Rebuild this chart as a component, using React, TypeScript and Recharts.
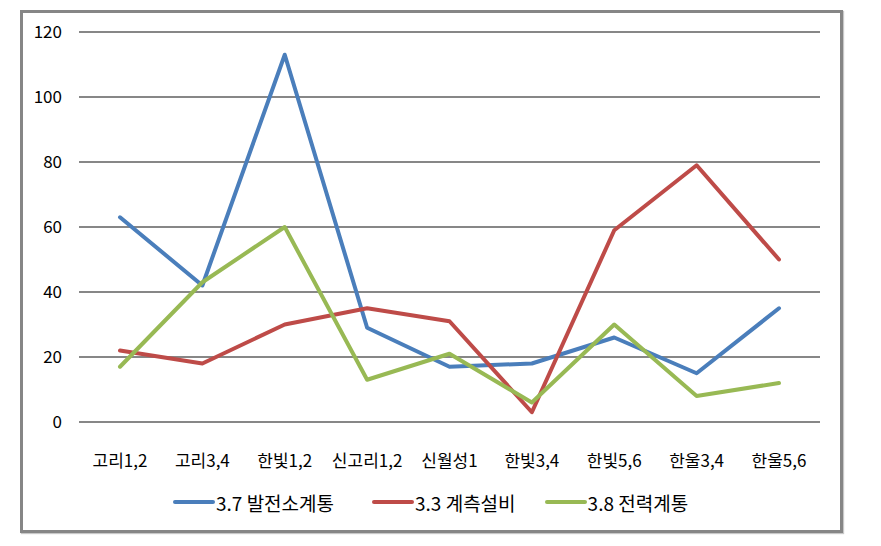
import React from 'react';
import { LineChart, Line, XAxis, YAxis, CartesianGrid, Legend } from 'recharts';

const categories = ['고리1,2', '고리3,4', '한빛1,2', '신고리1,2', '신월성1', '한빛3,4', '한빛5,6', '한울3,4', '한울5,6'];
const plantSystem = [63, 42, 113, 29, 17, 18, 26, 15, 35];
const measurement = [22, 18, 30, 35, 31, 3, 59, 79, 50];
const powerSystem = [17, 43, 60, 13, 21, 6, 30, 8, 12];
const yTicks = [0, 20, 40, 60, 80, 100, 120];

const seriesNames = ['3.7 발전소계통', '3.3 계측설비', '3.8 전력계통'];
const seriesColors = ['#4A7EBB', '#BE4B48', '#98B954'];
const legendGaps = [38, 29, 0];

const data = categories.map((c, i) => ({
  name: c,
  s1: plantSystem[i],
  s2: measurement[i],
  s3: powerSystem[i],
}));

const FONT = '"Noto Sans CJK KR", "Noto Sans", sans-serif';

const LegendContent = () => (
  <div style={{ display: 'flex', alignItems: 'center', fontFamily: FONT, fontSize: 19, color: '#000', height: 26, whiteSpace: 'nowrap' }}>
    {seriesNames.map((n, i) => (
      <div key={n} style={{ display: 'flex', alignItems: 'center', marginRight: legendGaps[i] }}>
        <div style={{ width: 42, height: 4, borderRadius: 2, background: seriesColors[i] }} />
        <span style={{ marginLeft: 1 }}>{n}</span>
      </div>
    ))}
  </div>
);

export default function App() {
  return (
    <div style={{ position: 'absolute', left: 0, top: 0, width: 881, height: 546, background: '#fff' }}>
      <div style={{ position: 'absolute', left: 20, top: 10, width: 823, height: 523, boxSizing: 'border-box', border: '3px solid #868686', boxShadow: '1px 1px 1px #c8c8c8' }} />
      <div style={{ position: 'absolute', left: 0, top: 0 }}>
        <LineChart width={881} height={546} data={data} margin={{ top: 32, right: 61, bottom: 84, left: 0 }}>
          <CartesianGrid vertical={false} stroke="#878787" strokeWidth={2} />
          <XAxis
            dataKey="name"
            axisLine={false}
            tickLine={false}
            tickSize={0}
            tickMargin={33}
            height={40}
            interval={0}
            padding={{ left: 41, right: 41 }}
            tick={{ fill: '#000', fontSize: 17, fontFamily: FONT }}
          />
          <YAxis
            domain={[0, 120]}
            ticks={yTicks}
            axisLine={false}
            tickLine={false}
            tickSize={0}
            tickMargin={17}
            width={79}
            tick={{ fill: '#000', fontSize: 17, fontFamily: FONT }}
          />
          <Legend
            layout="horizontal"
            verticalAlign="middle"
            align="center"
            content={<LegendContent />}
            wrapperStyle={{ top: 489, left: 173, width: 620 }}
          />
          <Line dataKey="s1" name={seriesNames[0]} stroke={seriesColors[0]} strokeWidth={4} dot={false} strokeLinejoin="round" strokeLinecap="round" isAnimationActive={false} />
          <Line dataKey="s2" name={seriesNames[1]} stroke={seriesColors[1]} strokeWidth={4} dot={false} strokeLinejoin="round" strokeLinecap="round" isAnimationActive={false} />
          <Line dataKey="s3" name={seriesNames[2]} stroke={seriesColors[2]} strokeWidth={4} dot={false} strokeLinejoin="round" strokeLinecap="round" isAnimationActive={false} />
        </LineChart>
      </div>
    </div>
  );
}
